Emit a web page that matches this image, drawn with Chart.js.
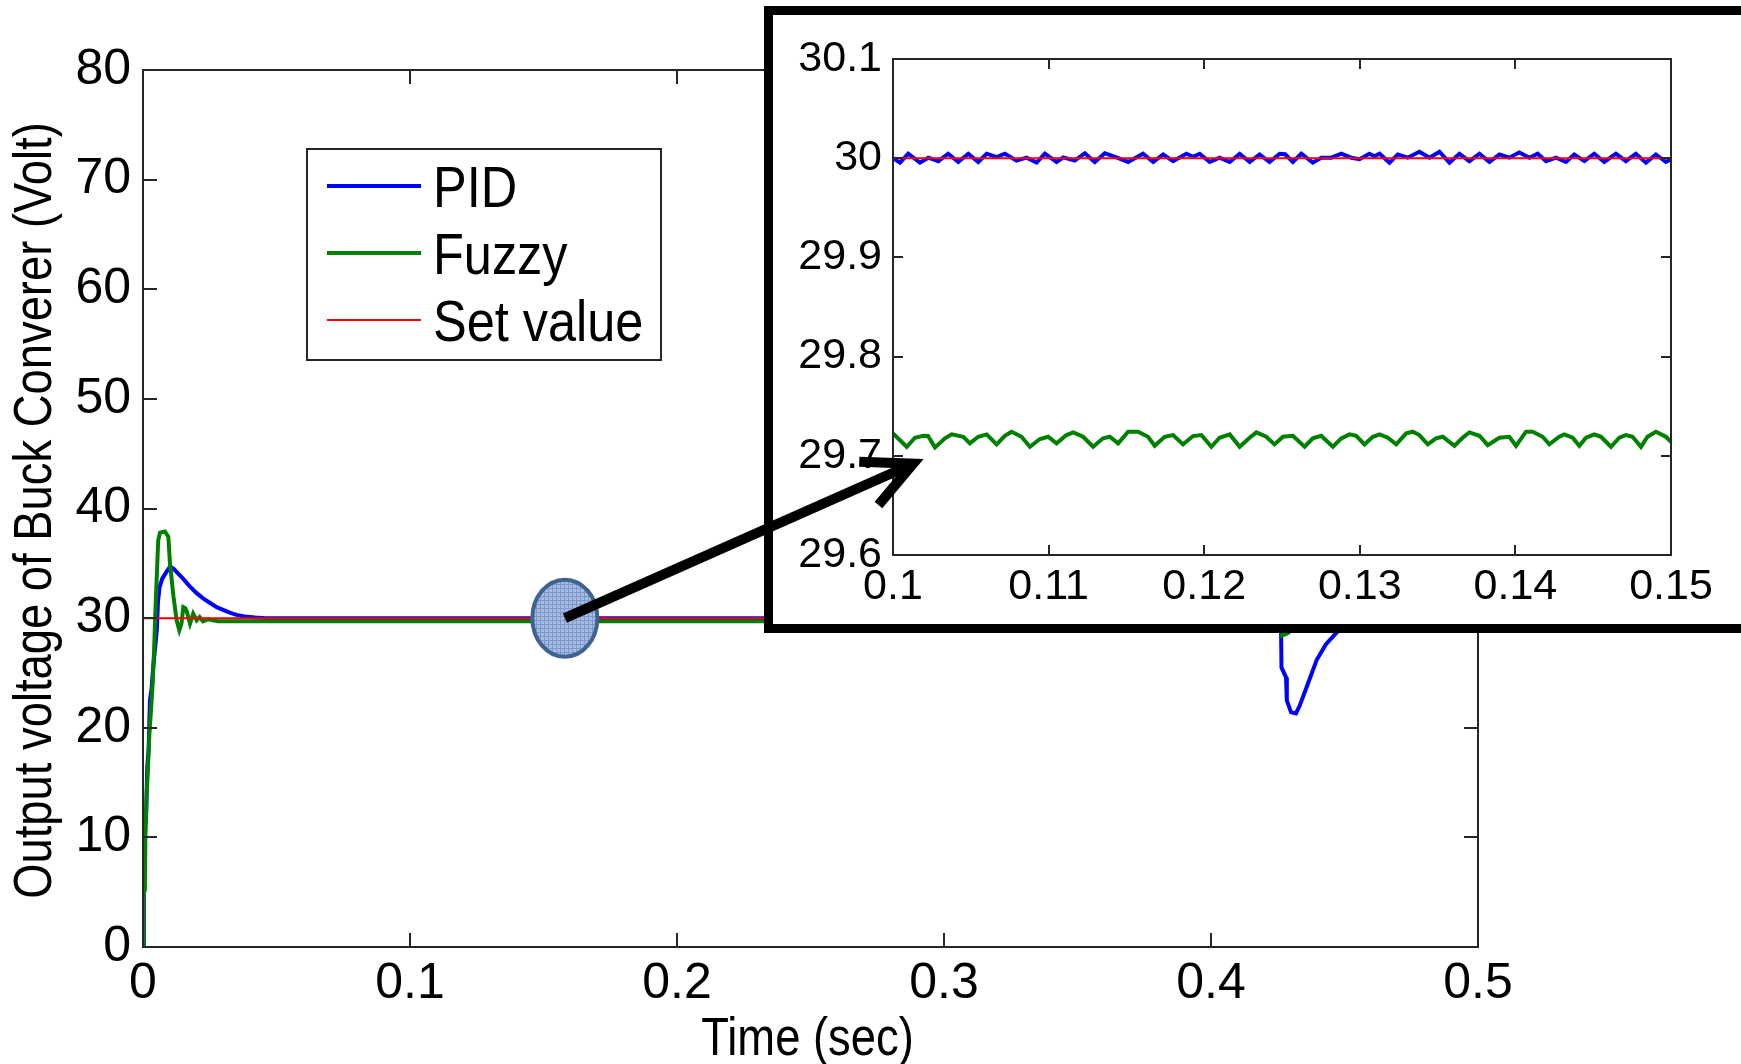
<!DOCTYPE html>
<html>
<head>
<meta charset="utf-8">
<title>Output voltage of Buck Converter</title>
<script src="https://cdn.jsdelivr.net/npm/chart.js@4.4.1/dist/chart.umd.min.js"></script>
<style>
  body { margin: 0; background: #fff; overflow: hidden; }
  #wrap { position: relative; width: 1741px; height: 1064px; overflow: hidden; }
  #wrap canvas { position: absolute; left: 0; top: 0; }
  #zoomFrame {
    position: absolute; left: 764px; top: 6px; width: 1100px; height: 627px;
    box-sizing: border-box; border: 9px solid #000; background: #fff;
  }
</style>
</head>
<body>
<div id="wrap">
  <canvas id="mainChart" width="1741" height="1064"></canvas>
  <div id="zoomFrame"></div>
  <canvas id="zoomChart" width="1741" height="1064"></canvas>
  <canvas id="marks" width="1741" height="1064"></canvas>
</div>
<script>
// ---- data: [time (s), voltage (V)] ----
const seriesNames = ['PID', 'Fuzzy', 'Set value'];

// full run 0 .. 0.5 s
const pidMain = [
  [0, 0], [0.0003, 5], [0.0006, 11], [0.0011, 11.5], [0.0016, 16.5], [0.0021, 18],
  [0.0026, 22.5], [0.0032, 23.5], [0.0038, 25.5], [0.0045, 27.2], [0.0052, 29],
  [0.0056, 31.5], [0.0062, 32.8], [0.0072, 33.6], [0.0085, 34.1], [0.0101, 34.7],
  [0.0115, 34.5], [0.013, 34.1], [0.015, 33.6], [0.0175, 32.9], [0.02, 32.3],
  [0.0225, 31.8], [0.025, 31.4], [0.0276, 31.0], [0.03, 30.75], [0.0325, 30.5],
  [0.035, 30.3], [0.038, 30.15], [0.042, 30.05], [0.046, 30.0], [0.2, 30.0],
  [0.4262, 30.0], [0.4264, 25.5], [0.4281, 24.6], [0.4284, 22.5], [0.43, 21.4],
  [0.4318, 21.3], [0.4332, 22.0], [0.4358, 23.7], [0.4396, 26.2], [0.443, 27.6],
  [0.4471, 28.7], [0.452, 29.4], [0.46, 29.85], [0.47, 30.0], [0.5, 30.0]
];
const fuzzyMain = [
  [0, 0], [0.0002, 4.9], [0.0007, 5.2], [0.0009, 10], [0.0014, 14], [0.0018, 16],
  [0.0024, 19.5], [0.003, 21.6], [0.0036, 24], [0.0042, 27.4], [0.0047, 31],
  [0.0052, 34], [0.0057, 37.1], [0.0064, 37.8], [0.0082, 37.9], [0.0095, 37.4],
  [0.0101, 35], [0.0114, 32], [0.0126, 29.8], [0.0136, 28.9], [0.0144, 29.5],
  [0.0151, 31.0], [0.0158, 30.9], [0.0164, 30.6], [0.0176, 29.5], [0.0188, 30.4],
  [0.0201, 29.8], [0.0212, 30.1], [0.0225, 29.7], [0.0245, 29.9], [0.028, 29.72],
  [0.1, 29.72], [0.4262, 29.72], [0.4266, 28.4], [0.4285, 28.6], [0.432, 29.2],
  [0.44, 29.6], [0.45, 29.72], [0.5, 29.72]
];
const setMain = [[0, 30], [0.5, 30]];

// zoomed window 0.1 .. 0.15 s
const pidZoom = [
  [0.1, 30.0], [0.10045, 29.9955], [0.10098, 30.0045], [0.10173, 29.9955], [0.10227, 30.0005],
  [0.10291, 29.997], [0.10355, 30.0045], [0.10419, 29.9962], [0.10484, 30.0045], [0.10548, 29.9962],
  [0.10602, 30.0045], [0.10666, 30.001], [0.10719, 30.0045], [0.10794, 29.9975], [0.10858, 30.0005],
  [0.10923, 29.9955], [0.10976, 30.0045], [0.11051, 29.9962], [0.11094, 30.0008], [0.11168, 29.9975],
  [0.11233, 30.005], [0.11297, 29.9962], [0.11361, 30.005], [0.11436, 30.0008], [0.11511, 29.9962],
  [0.11607, 30.0045], [0.11672, 29.9962], [0.11736, 30.0038], [0.118, 29.997], [0.11886, 30.0045],
  [0.11928, 30.0015], [0.11971, 30.0045], [0.12035, 29.9962], [0.12099, 30.0005], [0.12164, 29.9962],
  [0.12228, 30.0045], [0.12292, 29.9962], [0.12356, 30.0038], [0.1242, 29.9962], [0.12485, 30.0045],
  [0.1252, 30.004], [0.1257, 29.9962], [0.12624, 30.0045], [0.12698, 29.9955], [0.12752, 30.0005],
  [0.12817, 30.0005], [0.12881, 30.0045], [0.12945, 30.0005], [0.12998, 29.999], [0.13062, 30.0045],
  [0.13094, 30.002], [0.13127, 30.0045], [0.13191, 29.9955], [0.13244, 30.0038], [0.13308, 30.0005],
  [0.13383, 30.0065], [0.13448, 30.0005], [0.13512, 30.0065], [0.13576, 29.9955], [0.1364, 30.0045],
  [0.13704, 29.997], [0.13769, 30.0045], [0.13833, 29.9962], [0.13897, 30.0038], [0.13961, 30.0005],
  [0.14025, 30.0058], [0.1409, 30.0005], [0.14143, 30.0045], [0.14197, 29.997], [0.14261, 30.0005],
  [0.14325, 29.9962], [0.14378, 30.0038], [0.14443, 29.997], [0.14507, 30.0045], [0.14571, 29.9962],
  [0.14646, 30.0045], [0.1471, 29.997], [0.14774, 30.0045], [0.14839, 29.9955], [0.14903, 30.0038],
  [0.14967, 29.9962], [0.15, 29.999]
];
const fuzzyZoom = [
  [0.1, 29.7226], [0.10088, 29.7091], [0.10141, 29.7182], [0.10195, 29.7202], [0.10225, 29.72],
  [0.1027, 29.7085], [0.10334, 29.7176], [0.10377, 29.7216], [0.10452, 29.7192], [0.10494, 29.7125],
  [0.10548, 29.7192], [0.10602, 29.7216], [0.10666, 29.7115], [0.10719, 29.7202], [0.10762, 29.7243],
  [0.10826, 29.7192], [0.1088, 29.7091], [0.10944, 29.7169], [0.10997, 29.7192], [0.11051, 29.7125],
  [0.11115, 29.7209], [0.11158, 29.7236], [0.11222, 29.7192], [0.11286, 29.7091], [0.1135, 29.7176],
  [0.11393, 29.7192], [0.11447, 29.7125], [0.11511, 29.7243], [0.11575, 29.7243], [0.11639, 29.7192],
  [0.11682, 29.7101], [0.11746, 29.7192], [0.118, 29.7209], [0.11864, 29.7115], [0.11928, 29.7199],
  [0.11982, 29.7209], [0.12046, 29.7091], [0.12099, 29.7182], [0.12164, 29.7216], [0.12228, 29.7091],
  [0.12292, 29.7182], [0.12335, 29.7236], [0.12399, 29.7192], [0.12452, 29.7115], [0.12506, 29.7192],
  [0.1257, 29.7202], [0.12645, 29.7091], [0.12698, 29.7176], [0.12752, 29.7202], [0.12827, 29.7091],
  [0.12881, 29.7176], [0.12934, 29.7216], [0.12977, 29.7202], [0.1303, 29.7115], [0.13084, 29.7192],
  [0.13127, 29.7216], [0.1318, 29.7182], [0.13234, 29.7115], [0.13298, 29.7226], [0.1334, 29.7243],
  [0.13383, 29.7209], [0.13437, 29.7115], [0.1349, 29.7176], [0.13533, 29.7192], [0.13608, 29.7101],
  [0.13661, 29.7182], [0.13704, 29.7236], [0.13769, 29.7202], [0.13822, 29.7108], [0.13897, 29.7182],
  [0.13961, 29.7192], [0.14004, 29.7101], [0.14068, 29.7243], [0.14111, 29.7243], [0.14175, 29.7192],
  [0.14218, 29.7115], [0.14282, 29.7192], [0.14314, 29.7216], [0.14368, 29.7182], [0.14411, 29.7101],
  [0.14454, 29.7182], [0.14507, 29.7216], [0.1455, 29.7192], [0.14614, 29.7091], [0.14668, 29.7182],
  [0.1471, 29.7209], [0.14753, 29.7192], [0.14807, 29.7091], [0.14849, 29.7192], [0.14903, 29.7243],
  [0.14967, 29.7192], [0.15, 29.714]
];
const setZoom = [[0.1, 30], [0.15, 30]];

// ticks
const xTicksMain = [0, 0.1, 0.2, 0.3, 0.4, 0.5];
const xTickLabelsMain = ['0', '0.1', '0.2', '0.3', '0.4', '0.5'];
const yTicksMain = [0, 10, 20, 30, 40, 50, 60, 70, 80];
const yTickLabelsMain = ['0', '10', '20', '30', '40', '50', '60', '70', '80'];
const xTicksZoom = [0.1, 0.11, 0.12, 0.13, 0.14, 0.15];
const xTickLabelsZoom = ['0.1', '0.11', '0.12', '0.13', '0.14', '0.15'];
const yTicksZoom = [29.6, 29.7, 29.8, 29.9, 30, 30.1];
const yTickLabelsZoom = ['29.6', '29.7', '29.8', '29.9', '30', '30.1'];

const xTitle = 'Time (sec)';
const yTitle = 'Output voltage of Buck Converer (Volt)';

// spot marked on the main plot and where the arrow lands in the zoom
const markAt = [0.158, 30];
const arrowTo = [0.1013, 29.692];

const FONT = '"Liberation Sans", Arial, Helvetica, sans-serif';
const AXIS = '#262626';

const toXY = arr => arr.map(p => ({ x: p[0], y: p[1] }));

// MATLAB style box with ticks pointing inwards on all four sides
const boxTicks = {
  id: 'boxTicks',
  afterDatasetsDraw(chart, args, opts) {
    const { ctx, chartArea: a, scales: { x, y } } = chart;
    const len = opts.len || 12;
    ctx.save();
    ctx.strokeStyle = AXIS;
    ctx.lineWidth = 2;
    ctx.beginPath();
    x.ticks.forEach(t => {
      const px = Math.round(x.getPixelForValue(t.value));
      ctx.moveTo(px, a.bottom); ctx.lineTo(px, a.bottom - len);
      ctx.moveTo(px, a.top); ctx.lineTo(px, a.top + len);
    });
    y.ticks.forEach(t => {
      const py = Math.round(y.getPixelForValue(t.value));
      ctx.moveTo(a.left, py); ctx.lineTo(a.left + len, py);
      ctx.moveTo(a.right, py); ctx.lineTo(a.right - len, py);
    });
    ctx.stroke();
    ctx.strokeRect(a.left, a.top, a.right - a.left, a.bottom - a.top);
    ctx.restore();
  }
};

// legend box drawn inside the plot, like the matlab one
const boxLegend = {
  id: 'boxLegend',
  afterDatasetsDraw(chart, args, o) {
    if (!o.show) return;
    const ctx = chart.ctx;
    ctx.save();
    ctx.fillStyle = '#fff';
    ctx.fillRect(o.left, o.top, o.width, o.height);
    ctx.strokeStyle = AXIS;
    ctx.lineWidth = 2;
    ctx.strokeRect(o.left, o.top, o.width, o.height);
    chart.data.datasets.forEach((ds, i) => {
      const yy = o.top + o.firstRow + i * o.rowGap;
      ctx.strokeStyle = ds.borderColor;
      ctx.lineWidth = ds.borderWidth;
      ctx.beginPath();
      ctx.moveTo(o.left + 20, yy);
      ctx.lineTo(o.left + 114, yy);
      ctx.stroke();
      ctx.save();
      ctx.translate(o.left + 126, yy + 5);
      ctx.scale(0.87, 1);
      ctx.fillStyle = '#000';
      ctx.font = '58px ' + FONT;
      ctx.textAlign = 'left';
      ctx.textBaseline = 'middle';
      ctx.fillText(ds.label, 0, 0);
      ctx.restore();
    });
    ctx.restore();
  }
};

// axis titles (the original font is a bit condensed)
const axisTitles = {
  id: 'axisTitles',
  afterDraw(chart, args, o) {
    if (!o.show) return;
    const { ctx, chartArea: a } = chart;
    ctx.save();
    ctx.fillStyle = '#000';
    ctx.font = '54px ' + FONT;
    ctx.textAlign = 'center';
    ctx.textBaseline = 'middle';
    ctx.save();
    ctx.translate((a.left + a.right) / 2 - 3, 1040);
    ctx.scale(0.84, 1);
    ctx.fillText(xTitle, 0, 0);
    ctx.restore();
    ctx.save();
    ctx.translate(36, (a.top + a.bottom) / 2 + 2);
    ctx.rotate(-Math.PI / 2);
    ctx.scale(0.84, 1);
    ctx.fillText(yTitle, 0, 0);
    ctx.restore();
    ctx.restore();
  }
};

function makeDatasets(pid, fuzzy, set, widths) {
  return [
    { label: seriesNames[0], data: toXY(pid), borderColor: '#0000ff', borderWidth: widths[0], order: 2 },
    { label: seriesNames[1], data: toXY(fuzzy), borderColor: '#008000', borderWidth: widths[1], order: 1 },
    { label: seriesNames[2], data: toXY(set), borderColor: '#ff0000', borderWidth: widths[2], order: 0 }
  ].map(d => Object.assign(d, { pointRadius: 0, fill: false, tension: 0 }));
}

function axis(min, max, ticks, labels, fontSize, pad, fit) {
  return {
    type: 'linear', min: min, max: max,
    afterBuildTicks: s => { s.ticks = ticks.map(v => ({ value: v })); },
    afterFit: fit,
    grid: { display: false, drawTicks: false },
    border: { display: false },
    ticks: {
      padding: pad, color: '#000', autoSkip: false, maxRotation: 0,
      font: { family: FONT, size: fontSize },
      callback: (v, i) => labels[i]
    }
  };
}

const mainChart = new Chart(document.getElementById('mainChart'), {
  type: 'line',
  data: { datasets: makeDatasets(pidMain, fuzzyMain, setMain, [4, 4, 2]) },
  options: {
    responsive: false,
    animation: false,
    layout: { padding: { top: 70, right: 263, left: 0, bottom: 0 } },
    plugins: {
      legend: { display: false },
      tooltip: { enabled: false },
      boxTicks: { len: 14 },
      boxLegend: { show: true, left: 307, top: 149, width: 354, height: 211, firstRow: 37, rowGap: 67 },
      axisTitles: { show: true }
    },
    scales: {
      x: axis(0, 0.5, xTicksMain, xTickLabelsMain, 50, 7, s => { s.height = 117; }),
      y: axis(0, 80, yTicksMain, yTickLabelsMain, 50, 12, s => { s.width = 143; })
    }
  },
  plugins: [boxTicks, boxLegend, axisTitles]
});

const zoomChart = new Chart(document.getElementById('zoomChart'), {
  type: 'line',
  data: { datasets: makeDatasets(pidZoom, fuzzyZoom, setZoom, [4, 4, 2]) },
  options: {
    responsive: false,
    animation: false,
    layout: { padding: { top: 59, right: 70, left: 0, bottom: 0 } },
    plugins: {
      legend: { display: false },
      tooltip: { enabled: false },
      boxTicks: { len: 10 },
      boxLegend: { show: false },
      axisTitles: { show: false }
    },
    scales: {
      x: axis(0.1, 0.15, xTicksZoom, xTickLabelsZoom, 43, 6, s => { s.height = 509; }),
      y: axis(29.6, 30.1, yTicksZoom, yTickLabelsZoom, 43, 11, s => { s.width = 893; })
    }
  },
  plugins: [boxTicks, boxLegend, axisTitles]
});

// ellipse on the main trace + arrow into the zoomed view
function drawMarks() {
  const ctx = document.getElementById('marks').getContext('2d');
  const cx = mainChart.scales.x.getPixelForValue(markAt[0]);
  const cy = mainChart.scales.y.getPixelForValue(markAt[1]);
  const tx = zoomChart.scales.x.getPixelForValue(arrowTo[0]);
  const ty = zoomChart.scales.y.getPixelForValue(arrowTo[1]);

  // little cross-hatch texture like the original shape fill
  const tile = document.createElement('canvas');
  tile.width = 4; tile.height = 4;
  const tc = tile.getContext('2d');
  tc.fillStyle = '#a6bbe2';
  tc.fillRect(0, 0, 4, 4);
  tc.fillStyle = '#7c98cb';
  tc.fillRect(0, 0, 4, 1);
  tc.fillRect(0, 0, 1, 4);

  ctx.save();
  ctx.beginPath();
  ctx.ellipse(cx, cy, 32.5, 38.5, 0, 0, Math.PI * 2);
  ctx.fillStyle = ctx.createPattern(tile, 'repeat');
  ctx.fill();
  ctx.lineWidth = 4;
  ctx.strokeStyle = '#3f6390';
  ctx.stroke();

  ctx.strokeStyle = '#000';
  ctx.lineWidth = 10;
  ctx.beginPath();
  ctx.moveTo(cx, cy);
  ctx.lineTo(tx, ty);
  ctx.stroke();

  const ang = Math.atan2(cy - ty, cx - tx);
  const barb = 54, spread = 26 * Math.PI / 180;
  ctx.lineJoin = 'miter';
  ctx.beginPath();
  ctx.moveTo(tx + barb * Math.cos(ang - spread), ty + barb * Math.sin(ang - spread));
  ctx.lineTo(tx, ty);
  ctx.lineTo(tx + barb * Math.cos(ang + spread), ty + barb * Math.sin(ang + spread));
  ctx.stroke();
  ctx.restore();
}
drawMarks();
</script>
</body>
</html>
